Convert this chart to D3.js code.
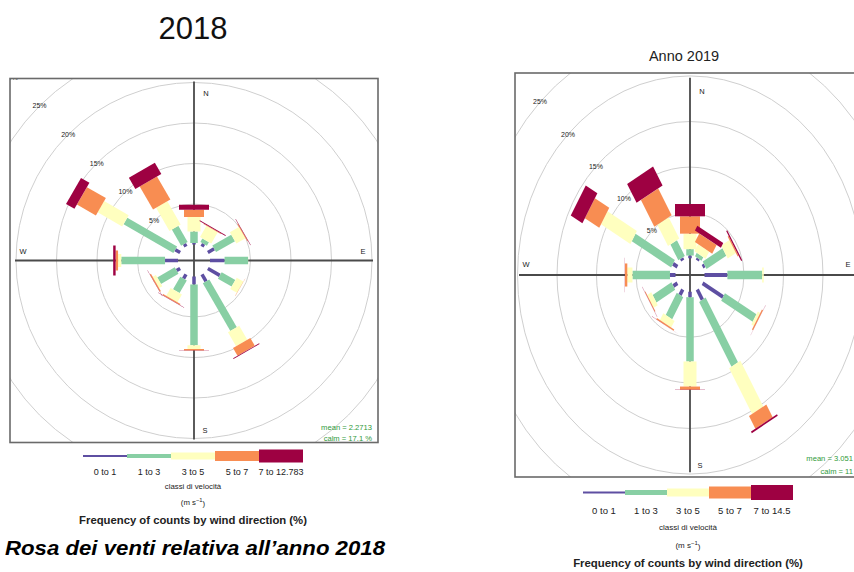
<!DOCTYPE html>
<html>
<head>
<meta charset="utf-8">
<script src="https://cdn.jsdelivr.net/npm/d3@7/dist/d3.min.js"></script>
<style>
  html, body { margin: 0; padding: 0; background: #fff; }
  svg { display: block; }
  text { font-family: "Liberation Sans", Arial, sans-serif; }
</style>
</head>
<body>
<svg id="chart" width="854" height="572" viewBox="0 0 854 572"></svg>
<script>
// Wind sectors (degrees clockwise from north)
const directions = [0, 30, 60, 90, 120, 150, 180, 210, 240, 270, 300, 330];
const compassLabels = ["N", "E", "S", "W"];
const gridPercents = [5, 10, 15, 20, 25, 30];

// Speed classes (m/s)
const speedKeys = ["c1", "c2", "c3", "c4", "c5"];
const speedLabels2018 = ["0 to 1", "1 to 3", "3 to 5", "5 to 7", "7 to 12.783"];
const speedLabels2019 = ["0 to 1", "1 to 3", "3 to 5", "5 to 7", "7 to 14.5"];
const speedColors = ["#5E4FA2", "#88CFA4", "#FFFFBF", "#F88D52", "#9E0142"];

// 2018 - frequency of counts (%) per sector, one array per speed class
const freq2018_0to1 = [0.2, 0.4, 0.9, 1.8, 1.7, 1.0, 1.0, 0.6, 0.5, 1.6, 0.7, 0.4];
const freq2018_1to3 = [1.4, 0.5, 2.7, 2.9, 1.95, 6.8, 7.5, 1.8, 2.5, 5.4, 7.1, 2.3];
const freq2018_3to5 = [1.8, 1.6, 1.3, 0.02, 0.95, 2.0, 0.45, 1.1, 0.45, 0.4, 3.5, 3.3];
const freq2018_5to7 = [0.9, 0.08, 0.1, 0, 0.03, 1.1, 0.2, 0.15, 0.15, 0.3, 2.7, 3.3];
const freq2018_7up  = [0.6, 0.1, 0.05, 0, 0, 0.1, 0.02, 0.05, 0.02, 0.3, 1.2, 1.6];

// 2019 - frequency of counts (%) per sector, one array per speed class
const freq2019_0to1 = [0.3, 0.25, 0.3, 2.9, 3.0, 1.3, 0.6, 0.7, 0.6, 0.7, 0.65, 0.3];
const freq2019_1to3 = [0.7, 0.45, 2.9, 4.4, 4.6, 8.2, 7.05, 2.8, 2.75, 4.75, 5.75, 2.0];
const freq2019_3to5 = [1.7, 0.9, 1.2, 0.2, 0.35, 5.8, 2.75, 0.85, 0.6, 0.65, 4.3, 2.7];
const freq2019_5to7 = [1.9, 1.1, 0.15, 0, 0.15, 1.6, 0.35, 0.15, 0.1, 0.3, 2.1, 3.4];
const freq2019_7up  = [1.35, 0.6, 0.15, 0, 0.02, 0.2, 0.03, 0.02, 0.02, 0.02, 1.7, 2.4];

const stats2018 = ["mean = 2.2713", "calm = 17.1 %"];
const stats2019 = ["mean = 3.051", "calm = 11"];

// ---- drawing ----
const svg = d3.select("#chart");
svg.append("rect").attr("width", 854).attr("height", 572).attr("fill", "#fff");

// paddle widths (px) for each speed class
const paddleWidths = [3.5, 7.5, 13, 20, 30];

function drawRose(cfg) {
  const g = svg.append("g");
  const cx = cfg.x + cfg.w / 2, cy = cfg.y + cfg.h / 2;
  const sy = cfg.sy;
  const r = d3.scaleLinear().domain([0, 30]).range([cfg.hole, cfg.hole + 30 * cfg.pxPerPct]);
  const pt = (deg, rad, lat) => {
    const t = deg * Math.PI / 180;
    return [cx + rad * Math.sin(t) + lat * Math.cos(t),
            cy + sy * (-rad * Math.cos(t) + lat * Math.sin(t))];
  };

  const clipId = cfg.id + "-clip";
  g.append("clipPath").attr("id", clipId)
    .append("rect").attr("x", cfg.x).attr("y", cfg.y).attr("width", cfg.w).attr("height", cfg.h);
  const inner = g.append("g").attr("clip-path", `url(#${clipId})`);

  // grid rings
  inner.selectAll("ellipse.ring").data(gridPercents).join("ellipse")
    .attr("class", "ring")
    .attr("cx", cx).attr("cy", cy)
    .attr("rx", d => r(d)).attr("ry", d => r(d) * sy)
    .attr("fill", "none").attr("stroke", "#cfcfcf").attr("stroke-width", 1);

  // ring labels along the north-west diagonal
  inner.selectAll("text.ringlab").data(gridPercents).join("text")
    .attr("class", "ringlab")
    .attr("x", d => pt(315, r(d), 0)[0])
    .attr("y", d => pt(315, r(d), 0)[1])
    .attr("dy", "0.35em")
    .attr("text-anchor", "middle")
    .attr("font-size", cfg.ringFont)
    .attr("fill", "#222")
    .text(d => d + "%");

  // cross hairs
  const L = cfg.axisLen;
  inner.append("line")
    .attr("x1", cx - L).attr("x2", cx + L).attr("y1", cy).attr("y2", cy)
    .attr("stroke", "#4a4a4a").attr("stroke-width", 1.8);
  inner.append("line")
    .attr("x1", cx).attr("x2", cx).attr("y1", cy - L * sy).attr("y2", cy + L * sy)
    .attr("stroke", "#4a4a4a").attr("stroke-width", 1.8);

  // paddles: stacked speed classes per sector
  const table = directions.map((d, i) => {
    const row = { dir: d };
    speedKeys.forEach((k, j) => { row[k] = cfg.series[j][i]; });
    return row;
  });
  const stacked = d3.stack().keys(speedKeys)(table);
  const line = d3.line();
  const paddles = inner.append("g");
  stacked.forEach((layer, j) => {
    const hw = paddleWidths[j] / 2;
    paddles.selectAll(null)
      .data(layer.filter(d => d[1] > d[0]))
      .join("path")
      .attr("d", d => {
        const dir = d.data.dir, r0 = r(d[0]), r1 = r(d[1]);
        return line([pt(dir, r0, -hw), pt(dir, r0, hw), pt(dir, r1, hw), pt(dir, r1, -hw)]) + "Z";
      })
      .attr("fill", speedColors[j]);
  });

  // compass letters
  g.selectAll("text.compass").data(compassLabels).join("text")
    .attr("class", "compass")
    .attr("x", (d, i) => cfg.compassPos[i][0])
    .attr("y", (d, i) => cfg.compassPos[i][1])
    .attr("dy", "0.35em")
    .attr("text-anchor", "middle")
    .attr("font-size", cfg.compassFont)
    .attr("fill", "#222")
    .text(d => d);

  // frame
  g.append("rect")
    .attr("x", cfg.x).attr("y", cfg.y).attr("width", cfg.w).attr("height", cfg.h)
    .attr("fill", "none").attr("stroke", "#6a6a6a").attr("stroke-width", 1.6);

  // mean / calm
  g.selectAll("text.stat").data(cfg.stats).join("text")
    .attr("class", "stat")
    .attr("x", (d, i) => cfg.statPos[i][0])
    .attr("y", (d, i) => cfg.statPos[i][1])
    .attr("dy", "0.35em")
    .attr("text-anchor", "end")
    .attr("font-size", cfg.statFont)
    .attr("fill", "#2f9a3a")
    .text(d => d);
}

function drawLegend(cfg) {
  const g = svg.append("g");
  const x = d3.scaleBand().domain(d3.range(cfg.labels.length))
    .range([cfg.x0, cfg.x0 + cfg.labels.length * cfg.segW]).padding(0);
  g.selectAll("rect").data(cfg.labels).join("rect")
    .attr("x", (d, i) => x(i)).attr("width", x.bandwidth())
    .attr("y", (d, i) => cfg.yBar - cfg.heights[i] / 2)
    .attr("height", (d, i) => cfg.heights[i])
    .attr("fill", (d, i) => speedColors[i]);
  g.selectAll("text.lab").data(cfg.labels).join("text")
    .attr("class", "lab")
    .attr("x", (d, i) => x(i) + x.bandwidth() / 2)
    .attr("y", cfg.yLab).attr("dy", "0.35em")
    .attr("text-anchor", "middle").attr("font-size", cfg.labFont).attr("fill", "#222")
    .text(d => d);
  const mid = cfg.x0 + cfg.labels.length * cfg.segW / 2;
  g.append("text").attr("x", mid).attr("y", cfg.yClass).attr("dy", "0.35em")
    .attr("text-anchor", "middle").attr("font-size", cfg.smallFont).attr("fill", "#222")
    .text("classi di velocità");
  const unit = g.append("text").attr("x", mid).attr("y", cfg.yUnit).attr("dy", "0.35em")
    .attr("text-anchor", "middle").attr("font-size", cfg.smallFont).attr("fill", "#222");
  unit.append("tspan").text("(m s");
  unit.append("tspan").attr("dy", "-0.45em").attr("font-size", cfg.smallFont * 0.75).text("−1");
  unit.append("tspan").attr("dy", "0.45em").text(")");
  g.append("text").attr("x", mid).attr("y", cfg.yFreq).attr("dy", "0.35em")
    .attr("text-anchor", "middle").attr("font-size", cfg.freqFont).attr("font-weight", "bold")
    .attr("fill", "#222")
    .text("Frequency of counts by wind direction (%)");
}

// 2018 rose
drawRose({
  id: "r2018", x: 10, y: 78.5, w: 368, h: 364, sy: 1,
  hole: 16, pxPerPct: 8.1, axisLen: 179,
  series: [freq2018_0to1, freq2018_1to3, freq2018_3to5, freq2018_5to7, freq2018_7up],
  ringFont: 7, compassFont: 7.5,
  compassPos: [[206, 93], [363, 251], [205, 430], [23, 251]],
  stats: stats2018, statPos: [[372, 427], [372, 438]], statFont: 7.6
});
drawLegend({
  labels: speedLabels2018, x0: 83, segW: 44, yBar: 456, heights: [2, 4, 7, 10, 13],
  yLab: 472, labFont: 9, yClass: 486, yUnit: 502, smallFont: 7.8, yFreq: 520, freqFont: 11.3
});

// 2019 rose (panel drawn slightly taller than wide)
drawRose({
  id: "r2019", x: 515, y: 73, w: 350, h: 404, sy: 1.154,
  hole: 14.5, pxPerPct: 7.9, axisLen: 171,
  series: [freq2019_0to1, freq2019_1to3, freq2019_3to5, freq2019_5to7, freq2019_7up],
  ringFont: 7, compassFont: 7.5,
  compassPos: [[702, 91], [848, 264], [700, 465], [526, 264]],
  stats: stats2019, statPos: [[853, 458], [853, 471]], statFont: 7.6
});
drawLegend({
  labels: speedLabels2019, x0: 583, segW: 42, yBar: 492.5, heights: [2, 5, 8, 12, 15],
  yLab: 511, labFont: 9.5, yClass: 527, yUnit: 545, smallFont: 8, yFreq: 563, freqFont: 11.4
});

// titles
svg.append("text").attr("x", 193).attr("y", 39).attr("text-anchor", "middle")
  .attr("font-family", "Lato, 'Open Sans', sans-serif").attr("font-size", 31).attr("fill", "#111")
  .text("2018");
svg.append("text").attr("x", 684).attr("y", 56).attr("dy", "0.35em").attr("text-anchor", "middle")
  .attr("font-size", 14.5).attr("fill", "#222")
  .text("Anno 2019");
svg.append("text").attr("x", 5).attr("y", 555)
  .attr("font-family", "Lato, 'Open Sans', sans-serif").attr("font-size", 20)
  .attr("font-weight", "bold").attr("font-style", "italic").attr("fill", "#000")
  .attr("textLength", 380).attr("lengthAdjust", "spacingAndGlyphs")
  .text("Rosa dei venti relativa all’anno 2018");
</script>
</body>
</html>
